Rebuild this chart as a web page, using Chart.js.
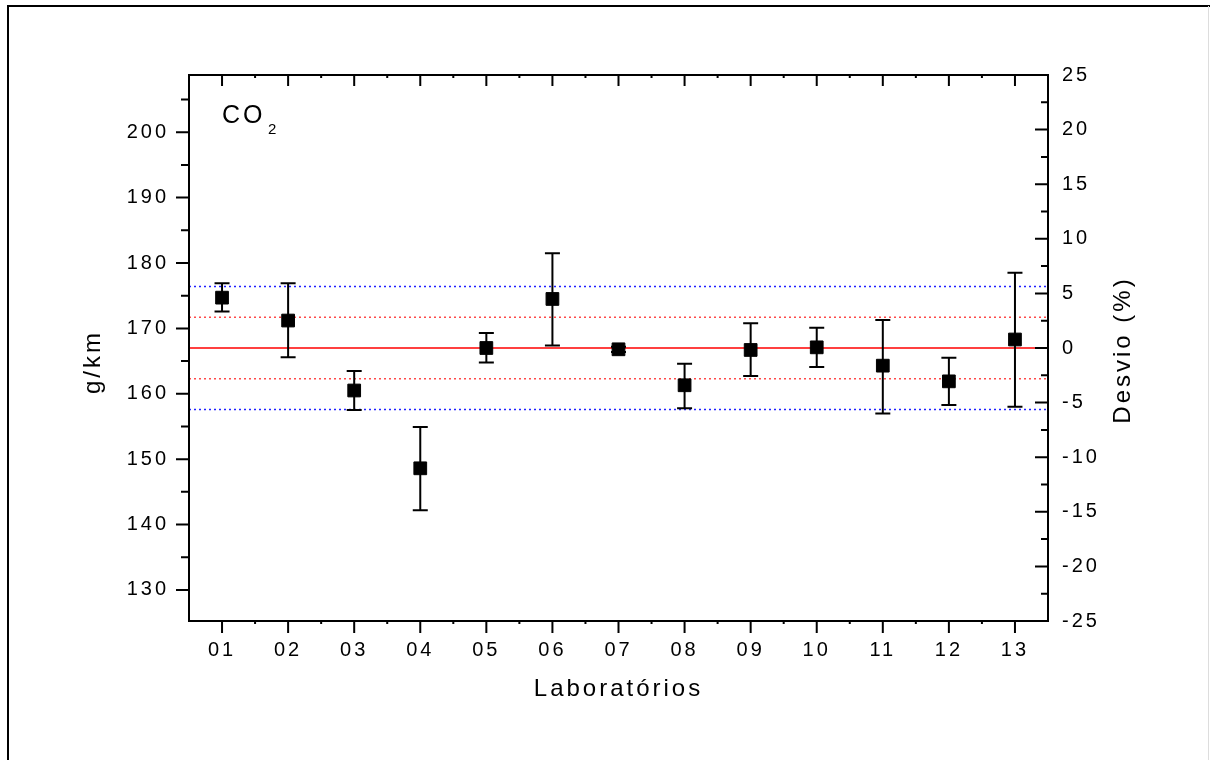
<!DOCTYPE html>
<html>
<head>
<meta charset="utf-8">
<script src="https://cdn.jsdelivr.net/npm/chart.js@4.4.1/dist/chart.umd.min.js"></script>
<style>
html,body{margin:0;padding:0;background:#fff;}
</style>
</head>
<body>
<canvas id="myChart" width="1210" height="760"></canvas>
<script>
// laboratories on the x axis
var labLabels = ["01","02","03","04","05","06","07","08","09","10","11","12","13"];
var labPos = [1,2,3,4,5,6,7,8,9,10,11,12,13];
// CO2 result in g/km and the ends of its error bar
var gkm     = [174.7, 171.2, 160.5, 148.6, 167.0, 174.5, 166.8, 161.3, 166.7, 167.1, 164.3, 161.9, 168.3];
var errHigh = [176.9, 176.9, 163.5, 154.9, 169.3, 181.5, 167.2, 164.6, 170.8, 170.1, 171.3, 165.5, 178.5];
var errLow  = [172.6, 165.6, 157.5, 142.2, 164.8, 167.4, 166.4, 157.8, 162.7, 164.1, 157.0, 158.3, 158.0];
// reference value and limit lines (g/km)
var refValue = 167.0;
var innerLimits = [171.7, 162.3]; //red dotted
var outerLimits = [176.4, 157.6]; //blue dotted
// tick labels
var leftTicks = [130,140,150,160,170,180,190,200];
var rightTicks = [-25,-20,-15,-10,-5,0,5,10,15,20,25];
var xMin = 0.5, xMax = 13.5;

var fontFam = "'Liberation Sans', Arial, Helvetica, sans-serif";

function hline(v, color, dash){
  return {
    type: 'scatter', showLine: true, pointRadius: 0,
    data: [{x: xMin, y: v}, {x: xMax, y: v}],
    borderColor: color, borderWidth: 1.5, borderDash: dash,
    yAxisID: 'y'
  };
}

var points = [];
for (var i = 0; i < labPos.length; i++) points.push({x: labPos[i], y: gkm[i]});

var extras = {
  id: 'extras',
  beforeDraw: function(chart){
    chart.ctx.letterSpacing = '3px';
  },
  beforeDatasetDraw: function(chart, args){
    if (args.index !== 0) return;
    var ctx = chart.ctx, xs = chart.scales.x, ys = chart.scales.y;
    ctx.save();
    ctx.strokeStyle = '#000';
    ctx.lineWidth = 2;
    for (var i = 0; i < labPos.length; i++){
      var px = xs.getPixelForValue(labPos[i]);
      var top = ys.getPixelForValue(errHigh[i]);
      var bot = ys.getPixelForValue(errLow[i]);
      ctx.beginPath();
      ctx.moveTo(px, top); ctx.lineTo(px, bot);
      ctx.moveTo(px - 7.5, top); ctx.lineTo(px + 7.5, top);
      ctx.moveTo(px - 7.5, bot); ctx.lineTo(px + 7.5, bot);
      ctx.stroke();
    }
    ctx.restore();
  },
  afterDraw: function(chart){
    var ctx = chart.ctx, a = chart.chartArea;
    var xs = chart.scales.x, ys = chart.scales.y, ys2 = chart.scales.y2;
    ctx.save();
    // outer frame
    ctx.strokeStyle = '#000';
    ctx.lineWidth = 2;
    ctx.beginPath();
    ctx.moveTo(8, 760); ctx.lineTo(8, 6); ctx.lineTo(1210, 6);
    ctx.stroke();
    ctx.strokeStyle = '#ddd';
    ctx.lineWidth = 1;
    ctx.beginPath(); ctx.moveTo(1208.5, 6); ctx.lineTo(1208.5, 760); ctx.stroke();

    // plot box
    ctx.strokeStyle = '#000';
    ctx.lineWidth = 2;
    ctx.strokeRect(a.left, a.top, a.right - a.left, a.bottom - a.top);

    ctx.beginPath();
    // x ticks: bottom outward, top inward
    for (var v = 1; v <= 13; v++){
      var px = xs.getPixelForValue(v);
      ctx.moveTo(px, a.bottom); ctx.lineTo(px, a.bottom + 12);
      ctx.moveTo(px, a.top); ctx.lineTo(px, a.top + 11);
    }
    for (var m = 1.5; m < xMax; m++){
      var pm = xs.getPixelForValue(m);
      ctx.moveTo(pm, a.bottom); ctx.lineTo(pm, a.bottom + 3);
      ctx.moveTo(pm, a.top); ctx.lineTo(pm, a.top + 3);
    }
    // left ticks, outward
    for (var t = 125; t <= 210; t += 5){
      if (t < ys.min || t > ys.max) continue;
      var py = ys.getPixelForValue(t);
      var len = (t % 10 === 0) ? 13 : 8;
      ctx.moveTo(a.left - len, py); ctx.lineTo(a.left, py);
    }
    // right ticks, inward
    for (var r = -25; r <= 25; r += 2.5){
      var pr = ys2.getPixelForValue(r);
      var len2 = (r % 5 === 0) ? 13 : 7;
      ctx.moveTo(a.right - len2, pr); ctx.lineTo(a.right, pr);
    }
    ctx.stroke();

    // vertical titles
    ctx.fillStyle = '#000';
    ctx.textAlign = 'center';
    ctx.textBaseline = 'middle';
    ctx.font = '24px ' + fontFam;
    ctx.save();
    ctx.translate(93, 362);
    ctx.rotate(-Math.PI / 2);
    ctx.fillText('g/km', 0, 0);
    ctx.restore();
    ctx.save();
    ctx.translate(1123, 350);
    ctx.rotate(-Math.PI / 2);
    ctx.fillText('Desvio (%)', 0, 0);
    ctx.restore();

    // CO2 label
    ctx.textAlign = 'left';
    ctx.textBaseline = 'alphabetic';
    ctx.font = '25px ' + fontFam;
    ctx.fillText('CO', 222, 123);
    ctx.font = '15px ' + fontFam;
    ctx.fillText('2', 268, 134);
    ctx.restore();
  }
};

new Chart("myChart", {
  type: 'scatter',
  data: {
    datasets: [
      {
        data: points,
        yAxisID: 'y',
        pointStyle: 'rect',
        pointRadius: 9,
        backgroundColor: '#000',
        borderColor: '#000',
        borderWidth: 1
      },
      hline(refValue, '#ff0000', []),
      hline(innerLimits[0], '#ff4a4a', [2, 3]),
      hline(innerLimits[1], '#ff4a4a', [2, 3]),
      hline(outerLimits[0], '#2020ff', [2, 3]),
      hline(outerLimits[1], '#2020ff', [2, 3])
    ]
  },
  options: {
    responsive: false,
    animation: false,
    devicePixelRatio: 1,
    layout: {padding: {top: 75, left: 0, right: 0, bottom: 0}},
    plugins: {legend: {display: false}, tooltip: {enabled: false}},
    scales: {
      x: {
        type: 'linear', position: 'bottom',
        min: xMin, max: xMax,
        afterBuildTicks: function(s){ s.ticks = labPos.map(function(v){ return {value: v}; }); },
        afterFit: function(s){ s.height = 139; },
        grid: {display: false, drawTicks: false},
        border: {display: false},
        ticks: {
          color: '#000', padding: 17, maxRotation: 0, autoSkip: false,
          font: {family: fontFam, size: 20},
          callback: function(v, idx){ return labLabels[idx]; }
        },
        title: {
          display: true, text: 'Laboratórios', color: '#000',
          font: {family: fontFam, size: 24},
          padding: {top: 0, bottom: 56}
        }
      },
      y: {
        type: 'linear', position: 'left',
        min: refValue * 0.75, max: refValue * 1.25,
        afterBuildTicks: function(s){ s.ticks = leftTicks.map(function(v){ return {value: v}; }); },
        afterFit: function(s){ s.width = 189; },
        grid: {display: false, drawTicks: false},
        border: {display: false},
        ticks: {color: '#000', padding: 20, font: {family: fontFam, size: 20}}
      },
      y2: {
        type: 'linear', position: 'right',
        min: -25, max: 25,
        afterBuildTicks: function(s){ s.ticks = rightTicks.map(function(v){ return {value: v}; }); },
        afterFit: function(s){ s.width = 162; },
        grid: {display: false, drawTicks: false},
        border: {display: false},
        ticks: {color: '#000', padding: 14, font: {family: fontFam, size: 20}}
      }
    }
  },
  plugins: [extras]
});
</script>
</body>
</html>
